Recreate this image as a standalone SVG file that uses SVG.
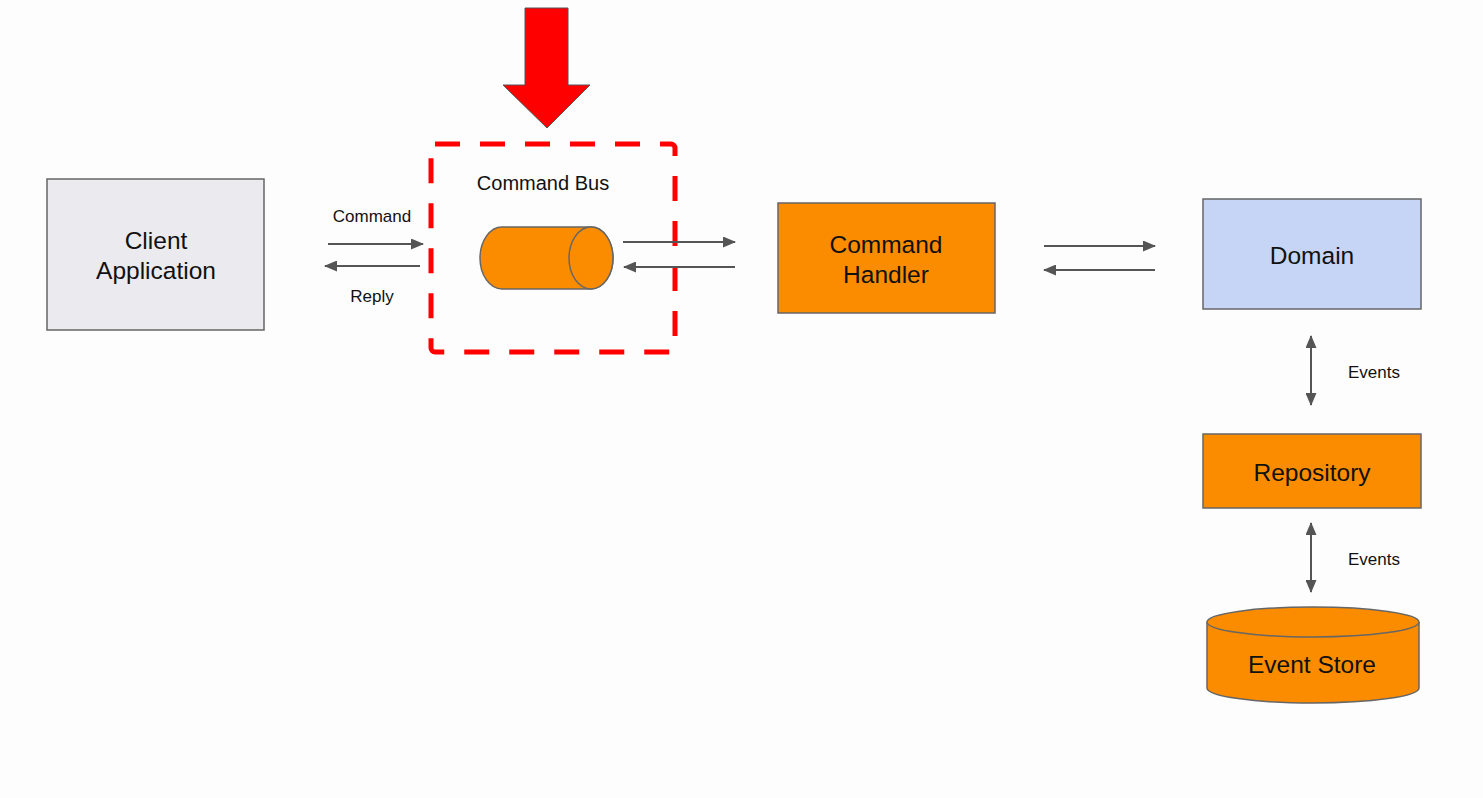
<svg xmlns="http://www.w3.org/2000/svg" width="1483" height="798" viewBox="0 0 1483 798">
<style>
.node{stroke:#666;stroke-width:1.5}
.orange{fill:#fb8c00}
.big{font-family:"Liberation Sans",Arial,sans-serif;font-size:24.5px;fill:#111;text-anchor:middle}
.small{font-family:"Liberation Sans",Arial,sans-serif;font-size:17px;fill:#111;text-anchor:middle}
.conn{stroke:#555;stroke-width:2;fill:none}
</style>
<defs>
<marker id="ah" markerUnits="userSpaceOnUse" markerWidth="13" markerHeight="11" viewBox="0 0 13 11" refX="12" refY="5.5" orient="auto-start-reverse">
<path d="M0,0 L13,5.5 L0,11 Z" fill="#555"/>
</marker>
</defs>
<rect width="1483" height="798" fill="#fdfdfd"/>

<g id="highlight-arrow">
<polygon points="525,8 568,8 568,85 590,85 547,128 503,85 525,85" fill="#ff0000" stroke="#555" stroke-width="1"/>
</g>

<g id="command-bus">
<rect x="431" y="144" width="244" height="208" rx="4" fill="none" stroke="#ff0000" stroke-width="5" stroke-dasharray="25 20"/>
<text class="small" x="543" y="190" style="font-size:20px">Command Bus</text>
<path class="node orange" d="M502,227 L591,227 A22,31 0 0 1 591,289 L502,289 A22,31 0 0 1 502,227 Z"/>
<ellipse class="node orange" cx="591" cy="258" rx="22" ry="31"/>
</g>

<g id="client-application">
<rect class="node" x="47" y="179" width="217" height="151" fill="#ebeaee"/>
<text class="big" x="156" y="249">Client</text>
<text class="big" x="156" y="279">Application</text>
</g>

<g id="command-handler">
<rect class="node orange" x="778" y="203" width="217" height="110"/>
<text class="big" x="886" y="253">Command</text>
<text class="big" x="886" y="283">Handler</text>
</g>

<g id="domain">
<rect class="node" x="1203" y="199" width="218" height="110" fill="#c6d5f5"/>
<text class="big" x="1312" y="264">Domain</text>
</g>

<g id="repository">
<rect class="node orange" x="1203" y="434" width="218" height="74"/>
<text class="big" x="1312" y="481">Repository</text>
</g>

<g id="event-store">
<path class="node orange" d="M1207,622 L1207,688 A106,15 0 0 0 1419,688 L1419,622"/>
<ellipse class="node orange" cx="1313" cy="622" rx="106" ry="15"/>
<text class="big" x="1312" y="673">Event Store</text>
</g>

<g id="connectors">
<line class="conn" x1="328" y1="244" x2="423" y2="244" marker-end="url(#ah)"/>
<line class="conn" x1="420" y1="266" x2="325" y2="266" marker-end="url(#ah)"/>
<text class="small" x="372" y="222">Command</text>
<text class="small" x="372" y="302">Reply</text>
<line class="conn" x1="623" y1="242" x2="735" y2="242" marker-end="url(#ah)"/>
<line class="conn" x1="735" y1="267" x2="624" y2="267" marker-end="url(#ah)"/>
<line class="conn" x1="1044" y1="246" x2="1155" y2="246" marker-end="url(#ah)"/>
<line class="conn" x1="1155" y1="270" x2="1044" y2="270" marker-end="url(#ah)"/>
<line class="conn" x1="1311" y1="336" x2="1311" y2="405" marker-start="url(#ah)" marker-end="url(#ah)"/>
<text class="small" x="1374" y="378">Events</text>
<line class="conn" x1="1311" y1="523" x2="1311" y2="592" marker-start="url(#ah)" marker-end="url(#ah)"/>
<text class="small" x="1374" y="565">Events</text>
</g>
</svg>
